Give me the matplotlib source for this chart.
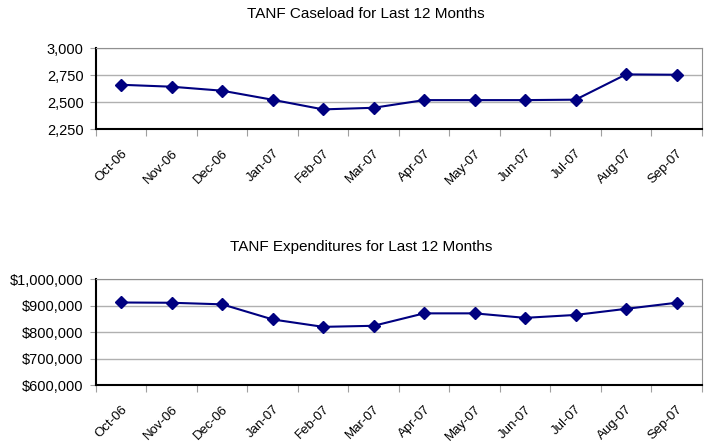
import matplotlib.pyplot as plt
from matplotlib.ticker import FuncFormatter
from matplotlib.transforms import ScaledTranslation

plt.rcParams['font.family'] = ['Liberation Sans', 'DejaVu Sans']

# data
months = ['Oct-06', 'Nov-06', 'Dec-06', 'Jan-07', 'Feb-07', 'Mar-07',
          'Apr-07', 'May-07', 'Jun-07', 'Jul-07', 'Aug-07', 'Sep-07']
caseload = [2660, 2642, 2605, 2521, 2432, 2447, 2518, 2518, 2518, 2522, 2756, 2753]
expenditures = [913000, 912000, 906000, 849000, 821000, 825000,
                872000, 872000, 855000, 866000, 889000, 912000]
caseload_ticks = [2250, 2500, 2750, 3000]
exp_ticks = [600000, 700000, 800000, 900000, 1000000]

navy = '#000080'

fig = plt.figure(figsize=(7.06, 4.45), dpi=100)
ax1 = fig.add_axes([0.136, 0.710, 0.858, 0.182])
ax2 = fig.add_axes([0.136, 0.134, 0.858, 0.238])


def style(ax, values, yticks, fmt):
    x = list(range(len(months)))
    ax.plot(x, values, color=navy, lw=1.5, marker='D', ms=6, zorder=3)
    ax.set_xlim(-0.5, len(months) - 0.5)
    ax.set_ylim(yticks[0], yticks[-1])
    ax.set_yticks(yticks)
    ax.yaxis.set_major_formatter(FuncFormatter(fmt))
    ax.grid(axis='y', color='#b0b0b0', lw=1)
    ax.set_axisbelow(True)
    # category boundaries as tick marks, labels at centers
    ax.set_xticks([i - 0.5 for i in range(len(months) + 1)])
    ax.set_xticklabels([])
    ax.set_xticks(x, minor=True)
    ax.set_xticklabels(months, minor=True, rotation=45, ha='right',
                       va='top', rotation_mode='anchor', fontsize=9.5)
    shift = ScaledTranslation(0.05, 0, fig.dpi_scale_trans)
    for lab in ax.get_xticklabels(minor=True):
        lab.set_transform(lab.get_transform() + shift)
    ax.tick_params(axis='x', which='minor', length=0, pad=13)
    ax.tick_params(axis='x', which='major', length=5, color='#a0a0a0')
    ax.tick_params(axis='y', length=4, color='#a0a0a0', labelsize=10.5, pad=5)
    for s in ['top', 'right']:
        ax.spines[s].set_color('#909090')
    for s in ['left', 'bottom']:
        ax.spines[s].set_color('black')
        ax.spines[s].set_linewidth(1.5)


style(ax1, caseload, caseload_ticks, lambda v, p: f'{v:,.0f}')
style(ax2, expenditures, exp_ticks, lambda v, p: f'${v:,.0f}')

fig.text(366 / 706, 1 - 14 / 445, 'TANF Caseload for Last 12 Months',
         ha='center', va='center', fontsize=11)
fig.text(361 / 706, 1 - 247 / 445, 'TANF Expenditures for Last 12 Months',
         ha='center', va='center', fontsize=11)

plt.savefig('out.png', dpi=100)
